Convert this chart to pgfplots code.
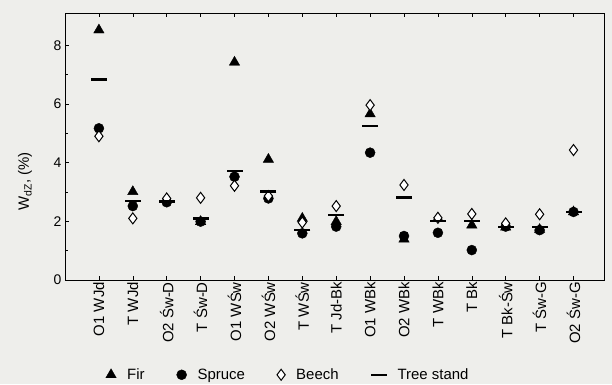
\documentclass[border=0pt]{standalone}
\usepackage{fontspec}
\setmainfont{Liberation Sans}
\usepackage{pgfplots}
\pgfplotsset{compat=1.18}
\definecolor{bg}{RGB}{238,238,235}
\begin{document}
\begin{tikzpicture}[x=1bp,y=1bp]
\fill[bg] (0,0) rectangle (612,384);
\path[use as bounding box] (0,0) rectangle (612,384);
\begin{axis}[
  at={(65bp,104bp)}, anchor=south west,
  scale only axis, width=539bp, height=267bp,
  xmin=-1, xmax=14.9, ymin=0, ymax=9.1,
  xtick={0,...,14},
  xticklabels={O1 WJd, T WJd, O2 Św-D, T Św-D, O1 WŚw, O2 WŚw, T WŚw, T Jd-Bk, O1 WBk, O2 WBk, T WBk, T Bk, T Bk-Św, T Św-G, O2 Św-G},
  xticklabel style={rotate=90, anchor=east, font=\fontsize{15}{17}\selectfont, inner sep=2bp},
  ytick={0,2,4,6,8}, minor ytick={1,3,5,7},
  yticklabel style={font=\fontsize{14}{16}\selectfont},
  /pgf/number format/assume math mode=true,
  tick align=inside, xtick pos=both, ytick pos=left,
  major tick length=4bp, minor tick length=2.5bp,
  axis line style={line width=1bp},
  tick style={black, line width=0.6bp},
  ylabel={W\textsubscript{dZ}, (\%)},
  ylabel style={font=\fontsize{15}{17}\selectfont, at={(axis description cs:-0.074,0.37)}, anchor=center},
  legend style={at={(0.414,-0.355)}, anchor=center, draw=none, fill=none,
    font=\fontsize{15}{17}\selectfont, legend columns=4,
    /tikz/every odd column/.append style={column sep=9bp},
    /tikz/every even column/.append style={column sep=30bp}},
  legend cell align=left,
]
\addplot[only marks, mark=triangle*, mark size=6bp, black] coordinates {
(0,8.52) (1,3.01) (2,2.74) (3,1.99) (4,7.42) (5,4.11) (6,2.10) (7,1.99)
(8,5.66) (9,1.39) (10,2.10) (11,1.87) (12,1.80) (13,1.72) (14,2.32)};
\addlegendentry{Fir}
\addplot[only marks, mark=*, mark size=5bp, black] coordinates {
(0,5.17) (1,2.52) (2,2.65) (3,1.99) (4,3.52) (5,2.78) (6,1.59) (7,1.82)
(8,4.34) (9,1.50) (10,1.61) (11,1.02) (12,1.82) (13,1.70) (14,2.32)};
\addlegendentry{Spruce}
\addplot[only marks, mark=diamond*, mark size=5.5bp, black, mark options={fill=white, line width=1bp}] coordinates {
(0,4.90) (1,2.10) (2,2.78) (3,2.80) (4,3.21) (5,2.86) (6,1.96) (7,2.52)
(8,5.96) (9,3.24) (10,2.12) (11,2.25) (12,1.93) (13,2.24) (14,4.43)};
\addlegendentry{Beech}
\addplot[only marks, mark=-, mark size=8bp, black, mark options={line width=2.5bp}] coordinates {
(0,6.84) (1,2.70) (2,2.68) (3,2.10) (4,3.72) (5,3.01) (6,1.70) (7,2.21)
(8,5.25) (9,2.82) (10,2.01) (11,2.01) (12,1.80) (13,1.80) (14,2.32)};
\addlegendentry{Tree stand}
\end{axis}
\end{tikzpicture}
\end{document}
